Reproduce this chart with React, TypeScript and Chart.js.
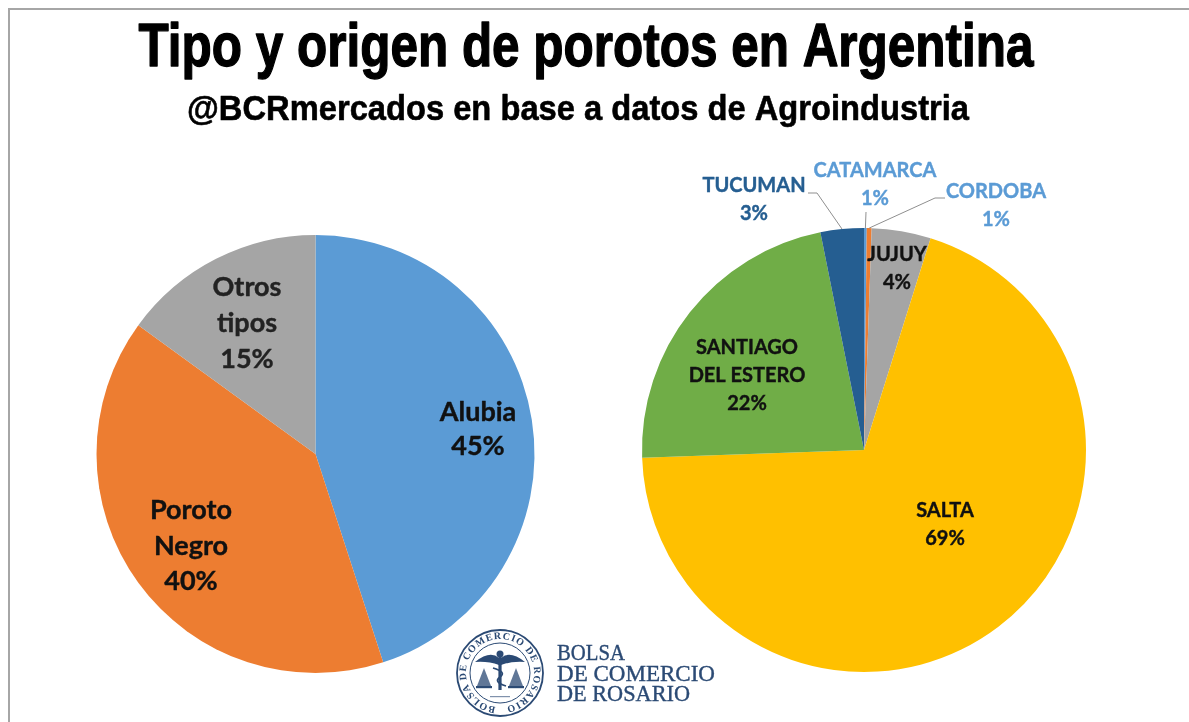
import React, { useEffect, useRef } from "react";
import { Chart, registerables } from "chart.js";

Chart.register(...registerables);

// ---- data ----
const typeCategories = ["Alubia", "Poroto Negro", "Otros tipos"];
const typeValues = [45, 40, 15];
const typeColors = ["#5b9bd5", "#ed7d31", "#a5a5a5"];

const originCategories = ["CATAMARCA", "CORDOBA", "JUJUY", "SALTA", "SANTIAGO DEL ESTERO", "TUCUMAN"];
const originValues = [0.2, 0.35, 4.3, 69.6, 22.4, 3.15];
const originPercentLabels = ["1%", "1%", "4%", "69%", "22%", "3%"];
const originColors = ["#5b9bd5", "#ed7d31", "#a5a5a5", "#ffc000", "#70ad47", "#255e91"];

const titleText = "Tipo y origen de porotos en Argentina";
const subtitleText = "@BCRmercados en base a datos de Agroindustria";

// ---- layout (page pixels) ----
const W = 1189;
const H = 722;
const leftPad = { left: 96, top: 235, right: W - 535, bottom: H - 673 };
const rightPad = { left: 642, top: 228, right: W - 1086, bottom: H - 672 };

type Lbl = { lines: string[]; x: number; y: number[]; color: string; size: number };
const leftLabels: Lbl[] = [
  { lines: ["Alubia", "45%"], x: 478, y: [412, 446], color: "#111", size: 27 },
  { lines: ["Poroto", "Negro", "40%"], x: 191, y: [510, 546, 581], color: "#111", size: 27 },
  { lines: ["Otros", "tipos", "15%"], x: 247, y: [287, 323, 359], color: "#222", size: 27 },
];
const rightLabels: Lbl[] = [
  { lines: [originCategories[3], originPercentLabels[3]], x: 945, y: [511, 539], color: "#111", size: 20 },
  { lines: ["SANTIAGO", "DEL ESTERO", originPercentLabels[4]], x: 747, y: [348, 376, 404], color: "#111", size: 20 },
  { lines: [originCategories[2], originPercentLabels[2]], x: 897, y: [255, 283], color: "#111", size: 20 },
  { lines: [originCategories[5], originPercentLabels[5]], x: 754, y: [186, 214], color: "#255e91", size: 20 },
  { lines: [originCategories[0], originPercentLabels[0]], x: 875, y: [171, 199], color: "#5b9bd5", size: 20 },
  { lines: [originCategories[1], originPercentLabels[1]], x: 996, y: [192, 220], color: "#5b9bd5", size: 20 },
];
// leader lines: arc index plus the elbow and the label end of the line
const leaders = [
  { arc: 5, elbow: [817, 193], end: [808, 193] },
  { arc: 0, elbow: [866, 212], end: [866, 212] },
  { arc: 1, elbow: [935, 198], end: [945, 198] },
];

const labelFont = "Lato, 'Open Sans', sans-serif";

function drawLabels(ctx: CanvasRenderingContext2D, labels: Lbl[]) {
  ctx.save();
  ctx.textAlign = "center";
  ctx.textBaseline = "middle";
  ctx.lineJoin = "round";
  for (const l of labels) {
    ctx.font = `bold ${l.size}px ${labelFont}`;
    ctx.fillStyle = l.color;
    ctx.strokeStyle = l.color;
    ctx.lineWidth = 0.4;
    l.lines.forEach((t, i) => {
      ctx.fillText(t, l.x, l.y[i]);
      ctx.strokeText(t, l.x, l.y[i]);
    });
  }
  ctx.restore();
}

const leftLabelPlugin = {
  id: "leftLabels",
  afterDatasetsDraw(chart: any) {
    drawLabels(chart.ctx, leftLabels);
  },
};

const rightLabelPlugin = {
  id: "rightLabels",
  afterDatasetsDraw(chart: any) {
    const ctx: CanvasRenderingContext2D = chart.ctx;
    const arcs = chart.getDatasetMeta(0).data;
    ctx.save();
    ctx.strokeStyle = "#8f8f8f";
    ctx.lineWidth = 1;
    for (const l of leaders) {
      const a = arcs[l.arc];
      const mid = (a.startAngle + a.endAngle) / 2;
      const ax = a.x + Math.cos(mid) * a.outerRadius;
      const ay = a.y + Math.sin(mid) * a.outerRadius;
      ctx.beginPath();
      ctx.moveTo(l.end[0], l.end[1]);
      ctx.lineTo(l.elbow[0], l.elbow[1]);
      ctx.lineTo(ax, ay);
      ctx.stroke();
    }
    ctx.restore();
    drawLabels(ctx, rightLabels);
  },
};

const titlePlugin = {
  id: "titles",
  afterDraw(chart: any) {
    const ctx: CanvasRenderingContext2D = chart.ctx;
    ctx.save();
    ctx.fillStyle = "#000";
    ctx.strokeStyle = "#000";
    ctx.lineJoin = "round";
    ctx.textAlign = "center";
    ctx.textBaseline = "alphabetic";
    ctx.font = "bold 62px 'Liberation Sans Narrow', 'Liberation Sans', sans-serif";
    ctx.lineWidth = 1.4;
    ctx.fillText(titleText, 586, 66, 895);
    ctx.strokeText(titleText, 586, 66, 895);
    ctx.font = "bold 35px 'Liberation Sans Narrow', 'Liberation Sans', sans-serif";
    ctx.lineWidth = 0.6;
    ctx.fillText(subtitleText, 578, 120, 782);
    ctx.strokeText(subtitleText, 578, 120, 782);
    ctx.restore();
  },
};

function pieConfig(labels: string[], data: number[], colors: string[], padding: any, plugins: any[]) {
  return {
    type: "pie" as const,
    data: {
      labels,
      datasets: [{ data, backgroundColor: colors, borderWidth: 0 }],
    },
    options: {
      responsive: false,
      animation: false as const,
      layout: { padding },
      plugins: { legend: { display: false }, tooltip: { enabled: false } },
    },
    plugins,
  };
}

function Seal() {
  const navy = "#2b4a74";
  return (
    <svg
      width={W}
      height={H}
      style={{ position: "absolute", left: 0, top: 0, filter: "blur(0.5px)" }}
    >
      <defs>
        <path id="sealRing" d="M 500 707 A 34 34 0 1 1 500.01 707" />
      </defs>
      <circle cx={500} cy={673} r={43} fill="#fff" stroke={navy} strokeWidth={1.8} />
      <circle cx={500} cy={673} r={30} fill="none" stroke={navy} strokeWidth={1} />
      <text fontFamily="'Liberation Serif', serif" fontSize={10} fill={navy} fontWeight="bold">
        <textPath href="#sealRing" startOffset="2%" textLength={202}>
          BOLSA DE COMERCIO DE ROSARIO
        </textPath>
      </text>
      {/* caduceus wings */}
      <path d="M 475 662 Q 490 650 499 658 L 499 665 Q 488 661 475 662 Z" fill={navy} />
      <path d="M 525 662 Q 510 650 501 658 L 501 665 Q 512 661 525 662 Z" fill={navy} />
      <circle cx={500} cy={654} r={3.5} fill={navy} />
      <rect x={498.4} y={656} width={3.2} height={34} fill={navy} />
      <path d="M 493 668 Q 507 672 500 677 Q 493 682 506 686" fill="none" stroke={navy} strokeWidth={1.8} />
      {/* scales */}
      <path d="M 484 668 L 477 686 L 491 686 Z" fill={navy} opacity={0.75} />
      <path d="M 516 668 L 509 686 L 523 686 Z" fill={navy} opacity={0.75} />
      <rect x={476} y={686} width={16} height={2.2} fill={navy} />
      <rect x={508} y={686} width={16} height={2.2} fill={navy} />
      <rect x={490} y={696} width={20} height={1.2} fill={navy} opacity={0.6} />
      <g fontFamily="'Liberation Serif', serif" fontSize={24} fill="#2b4a74" stroke="#2b4a74" strokeWidth={0.4}>
        <text x={557} y={660} textLength={68} lengthAdjust="spacingAndGlyphs">BOLSA</text>
        <text x={557} y={681} textLength={158} lengthAdjust="spacingAndGlyphs">DE COMERCIO</text>
        <text x={557} y={701} textLength={133} lengthAdjust="spacingAndGlyphs">DE ROSARIO</text>
      </g>
    </svg>
  );
}

export default function App() {
  const leftRef = useRef<HTMLCanvasElement>(null);
  const rightRef = useRef<HTMLCanvasElement>(null);

  useEffect(() => {
    document.body.style.margin = "0";
    const left = new Chart(
      leftRef.current!,
      pieConfig(typeCategories, typeValues, typeColors, leftPad, [leftLabelPlugin, titlePlugin]) as any
    );
    const right = new Chart(
      rightRef.current!,
      pieConfig(originCategories, originValues, originColors, rightPad, [rightLabelPlugin]) as any
    );
    return () => {
      left.destroy();
      right.destroy();
    };
  }, []);

  const layer: React.CSSProperties = { position: "absolute", left: 0, top: 0, filter: "blur(0.5px)" };
  return (
    <div style={{ position: "relative", width: W, height: H, overflow: "hidden", background: "#fff" }}>
      <div
        style={{
          position: "absolute",
          left: 8,
          top: 8,
          right: -4,
          bottom: -4,
          borderLeft: "2.5px solid #a6a6a6",
          borderTop: "2.5px solid #a6a6a6",
        }}
      />
      <canvas ref={leftRef} width={W} height={H} style={layer} />
      <canvas ref={rightRef} width={W} height={H} style={layer} />
      <Seal />
    </div>
  );
}
